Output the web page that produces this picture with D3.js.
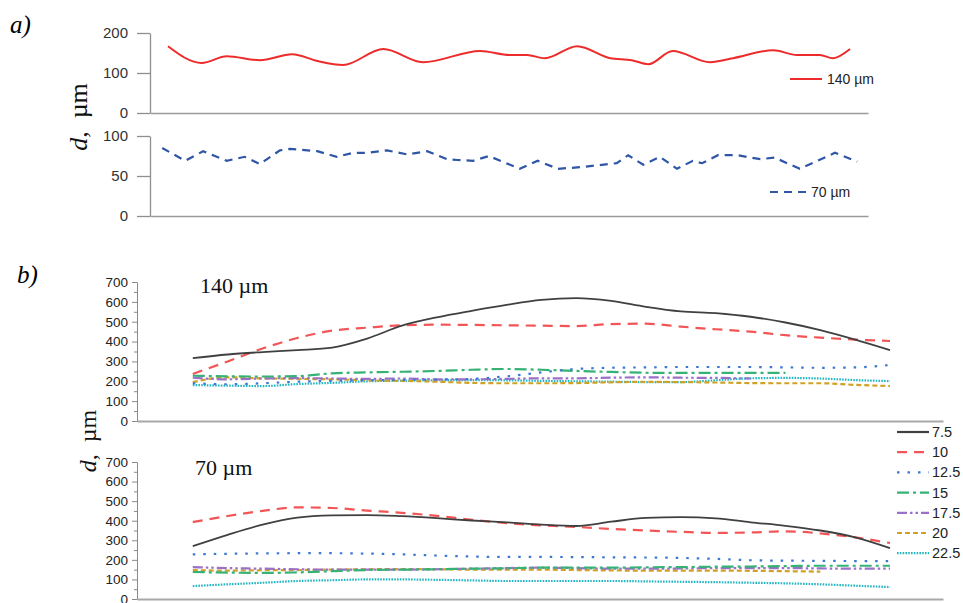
<!DOCTYPE html>
<html>
<head>
<meta charset="utf-8">
<script src="https://cdn.jsdelivr.net/npm/d3@7"></script>
<style>
body{margin:0;background:#fff;}
</style>
</head>
<body>
<svg></svg>
<script>
// ---- panel a: diameter along the sample, 140 um and 70 um
var posA140 = [2.5,7.2,10.7,15.3,19.8,23.3,26.9,32.5,38.0,46.0,50.1,52.5,55.0,59.5,64.1,67.1,69.4,72.8,78.0,81.2,86.8,90.1,93.3,95.1,97.5];
var dA140 = [167,125,142,132,147,130,120,160,127,155,145,145,137,167,137,132,122,155,127,137,157,145,145,137,160];
var posA70 = [1.7,4.9,7.4,10.7,13.2,15.3,18.1,19.5,23.3,26.0,28.3,30.2,33.0,35.8,38.6,41.4,42.8,45.0,47.2,51.5,54.0,56.8,59.9,65.0,66.6,68.7,71.0,73.4,75.6,76.9,79.1,81.8,85.0,87.0,90.5,95.4,98.5];
var dA70 = [85,69,81,69,74,65,82,84,81,74,79,79,82,77,81,71,70,69,75,59,69,59,61,66,76,64,74,59,69,66,76,76,71,73,59,79,68];
var ticksA140 = [0,100,200];
var ticksA70 = [0,50,100];

// ---- panel b: seven series, sampled at the same positions
var posB = [0,1,2,3,4,5,6,7,8,9,10,11,12,13,14,15,16,17,18,19,20];
var names = ["7.5","10","12.5","15","17.5","20","22.5"];
var ticksB = [0,100,200,300,400,500,600,700];

var top75  = [317,335,347,357,370,415,480,522,555,585,610,619,605,575,552,543,525,496,458,410,357];
var top10  = [237,300,365,418,455,470,482,485,484,482,480,478,488,490,475,462,450,432,420,410,403];
var top125 = [190,185,190,198,202,205,207,209,212,225,245,262,268,270,272,272,272,270,268,270,282];
var top15  = [228,225,224,226,240,245,248,252,258,262,258,252,247,243,242,242,242,242,null,null,null];
var top175 = [218,210,214,216,214,212,214,210,210,212,215,215,218,220,218,217,214,null,null,null,null];
var top20  = [196,220,215,212,210,205,202,198,192,190,190,191,195,197,196,194,191,190,190,182,176];
var top225 = [181,178,176,186,192,200,203,205,206,205,202,200,198,196,196,205,215,217,214,206,201];

var low75  = [270,328,380,416,427,429,423,413,401,392,380,373,395,414,418,412,392,374,350,315,260];
var low10  = [393,424,450,468,465,452,440,425,405,388,376,368,358,350,343,338,340,346,335,315,286];
var low125 = [228,231,233,234,234,232,228,222,217,215,215,214,213,212,210,205,198,196,195,194,194];
var low15  = [138,135,133,136,142,148,150,152,155,157,160,160,160,162,163,165,166,168,170,170,170];
var low175 = [163,158,155,152,150,150,150,152,155,158,160,158,155,155,156,158,158,158,156,155,155];
var low20  = [148,145,147,148,150,152,153,152,150,150,150,148,146,145,145,145,144,142,140,null,null];
var low225 = [66,75,83,92,96,100,100,98,95,92,92,92,92,90,88,86,83,80,75,68,61];

// styles for each series of panel b
var colors = ["#404040","#f25555","#3a78d2","#35b274","#9b70c8","#cfa126","#25b7c4"];
var dashes = ["none","10,7","2.5,8","12,4,3,4","10,3,2.5,3,2.5,3","5,3","1.6,1.2"];

var serif = "'Times New Roman','Liberation Serif',serif";
var sans = "Arial,'Liberation Sans',sans-serif";

var screen = {width:963,height:603};
var svg = d3.select("svg")
    .attr("width",screen.width)
    .attr("height",screen.height);

var styleAxis = function(g,col,size,fill)
{
    g.selectAll("path,line").attr("stroke",col);
    g.selectAll("text").attr("font-family",sans).attr("font-size",size).attr("fill",fill);
}

// ================= panel a =================
var xA = d3.scaleLinear().domain([0,100]).range([150,868]);
var yA1 = d3.scaleLinear().domain([0,200]).range([113,33]);
var yA2 = d3.scaleLinear().domain([0,100]).range([216,136]);

var drawAxesA = function(y,ticks)
{
    var gy = svg.append("g")
        .attr("transform","translate(150,0)")
        .call(d3.axisLeft(y).tickValues(ticks).tickSize(13).tickPadding(9).tickSizeOuter(0));
    styleAxis(gy,"#8f8f8f",15,"#333");
    gy.selectAll("path,line").attr("stroke-width",1.3);
    var gx = svg.append("g")
        .attr("transform","translate(0,"+y(0)+")")
        .call(d3.axisBottom(xA).tickValues([]).tickSizeOuter(0));
    styleAxis(gx,"#9a9a9a",15,"#333");
    gx.select("path").attr("stroke-width",1.6);
}
drawAxesA(yA1,ticksA140);
drawAxesA(yA2,ticksA70);

var lineA = function(pos,y,curve)
{
    return d3.line()
        .x(function(d,i){return xA(pos[i]);})
        .y(function(d){return y(d);})
        .curve(curve);
}

svg.append("path")
    .attr("d",lineA(posA140,yA1,d3.curveMonotoneX)(dA140))
    .attr("fill","none").attr("stroke","#ee2b2b").attr("stroke-width",2);
svg.append("path")
    .attr("d",lineA(posA70,yA2,d3.curveLinear)(dA70))
    .attr("fill","none").attr("stroke","#2f56a6").attr("stroke-width",2.2)
    .attr("stroke-dasharray","8,6");

// legends a
svg.append("line").attr("x1",790).attr("x2",822).attr("y1",79).attr("y2",79)
    .attr("stroke","#ee2b2b").attr("stroke-width",2);
svg.append("text").attr("x",827).attr("y",84).text("140 µm")
    .attr("font-family",sans).attr("font-size",14).attr("fill","#222");
svg.append("line").attr("x1",770).attr("x2",808).attr("y1",192).attr("y2",192)
    .attr("stroke","#2f56a6").attr("stroke-width",2.2).attr("stroke-dasharray","8,6");
svg.append("text").attr("x",811).attr("y",197).text("70 µm")
    .attr("font-family",sans).attr("font-size",14).attr("fill","#222");

// labels a
svg.append("text").attr("x",10).attr("y",33).text("a)")
    .attr("font-family",serif).attr("font-style","italic").attr("font-size",25);
var labA = svg.append("text")
    .attr("transform","translate(87,117) rotate(-90)")
    .attr("text-anchor","middle")
    .attr("font-family",serif).attr("font-size",26).attr("fill","#111");
labA.append("tspan").attr("font-style","italic").text("d");
labA.append("tspan").text(",\u00a0 µm");

// ================= panel b =================
var xB = d3.scaleLinear().domain([-1.6,21.52]).range([137,943]);
var yB1 = d3.scaleLinear().domain([0,700]).range([421,282]);
var yB2 = d3.scaleLinear().domain([0,700]).range([599,462]);

var drawAxesB = function(y)
{
    var minor = svg.append("g")
        .attr("transform","translate(137,0)")
        .call(d3.axisLeft(y).tickValues(d3.range(50,700,100)).tickSize(3).tickFormat("").tickSizeOuter(0));
    styleAxis(minor,"#8a8a8a",13,"#222");
    var gy = svg.append("g")
        .attr("transform","translate(137,0)")
        .call(d3.axisLeft(y).tickValues(ticksB).tickSize(5).tickPadding(4).tickSizeOuter(0));
    styleAxis(gy,"#8a8a8a",13.5,"#222");
    var gx = svg.append("g")
        .attr("transform","translate(0,"+y(0)+")")
        .call(d3.axisBottom(xB).tickValues([]).tickSizeOuter(0));
    styleAxis(gx,"#a8a8a8",13,"#222");
    gx.select("path").attr("stroke-width",2.2);
}
drawAxesB(yB1);
drawAxesB(yB2);

var drawSeries = function(list,y)
{
    var line = d3.line()
        .defined(function(d){return d!=null;})
        .x(function(d,i){return xB(posB[i]);})
        .y(function(d){return y(d);})
        .curve(d3.curveMonotoneX);
    // draw from last to first so the solid 7.5 line sits on top
    for (var k=list.length-1;k>=0;k--)
    {
        svg.append("path")
            .attr("d",line(list[k]))
            .attr("fill","none")
            .attr("stroke",colors[k])
            .attr("stroke-width",k==0?1.8:2.2)
            .attr("stroke-dasharray",dashes[k]);
    }
}
drawSeries([top75,top10,top125,top15,top175,top20,top225],yB1);
drawSeries([low75,low10,low125,low15,low175,low20,low225],yB2);

// legend b
var leg = svg.append("g").selectAll("g")
    .data(names)
    .enter()
    .append("g")
    .attr("transform",function(d,i){return "translate(897,"+(432+i*20.2)+")";});
leg.append("line").attr("x1",0).attr("x2",32)
    .attr("stroke",function(d,i){return colors[i];})
    .attr("stroke-width",2.2)
    .attr("stroke-dasharray",function(d,i){return dashes[i];});
leg.append("text").attr("x",35).attr("y",5).text(function(d){return d;})
    .attr("font-family",sans).attr("font-size",14.5).attr("fill","#222");

// labels b
svg.append("text").attr("x",17).attr("y",283).text("b)")
    .attr("font-family",serif).attr("font-style","italic").attr("font-size",25);
svg.append("text").attr("x",200).attr("y",293).text("140 µm")
    .attr("font-family",serif).attr("font-size",22).attr("fill","#111");
svg.append("text").attr("x",195).attr("y",475).text("70 µm")
    .attr("font-family",serif).attr("font-size",22).attr("fill","#111");
var labB = svg.append("text")
    .attr("transform","translate(96,441) rotate(-90)")
    .attr("text-anchor","middle")
    .attr("font-family",serif).attr("font-size",24).attr("fill","#111");
labB.append("tspan").attr("font-style","italic").text("d");
labB.append("tspan").text(",\u00a0 µm");
</script>
</body>
</html>
